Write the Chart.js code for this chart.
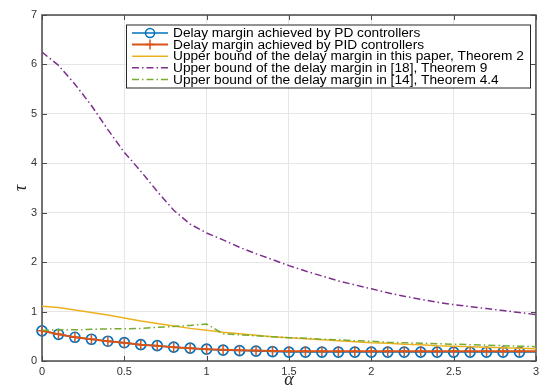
<!DOCTYPE html>
<html>
<head>
<meta charset="UTF-8">
<title>delay margin</title>
<script src="https://cdn.jsdelivr.net/npm/chart.js"></script>
<style>
body{margin:0;background:#fff;}
</style>
</head>
<body>
<canvas id="myChart" width="543" height="390"></canvas>
<script>
// alpha values (x axis)
var alpha = [0, 0.1, 0.2, 0.3, 0.4, 0.5, 0.6, 0.7, 0.8, 0.9, 1.0,
             1.1, 1.2, 1.3, 1.4, 1.5, 1.6, 1.7, 1.8, 1.9, 2.0,
             2.1, 2.2, 2.3, 2.4, 2.5, 2.6, 2.7, 2.8, 2.9, 3.0];

var pdMargin  = [0.61, 0.54, 0.48, 0.44, 0.40, 0.37, 0.33, 0.31, 0.28, 0.26, 0.24,
                 0.22, 0.21, 0.20, 0.19, 0.18, 0.18, 0.18, 0.18, 0.18, 0.18,
                 0.18, 0.18, 0.18, 0.18, 0.18, 0.18, 0.18, 0.18, 0.18, 0.18];
var pidMargin = [0.61, 0.54, 0.48, 0.44, 0.40, 0.37, 0.33, 0.31, 0.28, 0.26, 0.24,
                 0.23, 0.22, 0.21, 0.20, 0.195, 0.195, 0.195, 0.195, 0.195, 0.195,
                 0.195, 0.195, 0.195, 0.195, 0.195, 0.195, 0.195, 0.195, 0.195, 0.195];
var boundThis = [1.11, 1.08, 1.03, 0.98, 0.93, 0.87, 0.81, 0.76, 0.71, 0.66, 0.62,
                 0.58, 0.55, 0.52, 0.49, 0.47, 0.45, 0.43, 0.41, 0.39, 0.37,
                 0.36, 0.34, 0.33, 0.31, 0.30, 0.29, 0.28, 0.27, 0.26, 0.25];
var bound18   = [6.25, 5.98, 5.60, 5.17, 4.68, 4.22, 3.84, 3.43, 3.05, 2.77, 2.59,
                 2.45, 2.30, 2.17, 2.05, 1.93, 1.82, 1.72, 1.62, 1.54, 1.46,
                 1.38, 1.31, 1.25, 1.19, 1.14, 1.10, 1.06, 1.02, 0.98, 0.94];
var bound14   = [0.62, 0.63, 0.63, 0.64, 0.65, 0.65, 0.66, 0.68, 0.70, 0.72, 0.75,
                 0.55, 0.53, 0.51, 0.49, 0.47, 0.46, 0.44, 0.43, 0.41, 0.40,
                 0.38, 0.37, 0.36, 0.35, 0.34, 0.33, 0.32, 0.31, 0.30, 0.29];

var xTicks = [0, 0.5, 1, 1.5, 2, 2.5, 3];
var yTicks = [0, 1, 2, 3, 4, 5, 6, 7];

var seriesNames = [
	'Delay margin achieved by PD controllers',
	'Delay margin achieved by PID controllers',
	'Upper bound of the delay margin in this paper, Theorem 2',
	'Upper bound of the delay margin in [18], Theorem 9',
	'Upper bound of the delay margin in [14], Theorem 4.4'
];

function pts(ys){
	return alpha.map(function(a, i){ return {x: a, y: ys[i]}; });
}

var axisColor = '#4a4a4a';
var dashDot = [7, 3, 1.5, 3];

// no marker on the last sample (x = 3)
function markerSize(c){ return c.dataIndex === alpha.length - 1 ? 0 : 5; }

// box around the plot + inward ticks (matlab style)
var boxPlugin = {
	id: 'axesBox',
	beforeDatasetsDraw: function(chart){
		var ctx = chart.ctx, a = chart.chartArea;
		var xs = chart.scales.x, ys = chart.scales.y;
		ctx.save();
		ctx.strokeStyle = axisColor;
		ctx.lineWidth = 1.5;
		ctx.strokeRect(a.left, a.top, a.right - a.left, a.bottom - a.top);
		ctx.lineWidth = 1;
		ctx.beginPath();
		xTicks.forEach(function(v){
			var px = Math.round(xs.getPixelForValue(v)) + 0.5;
			ctx.moveTo(px, a.bottom); ctx.lineTo(px, a.bottom - 5);
			ctx.moveTo(px, a.top); ctx.lineTo(px, a.top + 5);
		});
		yTicks.forEach(function(v){
			var py = Math.round(ys.getPixelForValue(v)) + 0.5;
			ctx.moveTo(a.left, py); ctx.lineTo(a.left + 5, py);
			ctx.moveTo(a.right, py); ctx.lineTo(a.right - 5, py);
		});
		ctx.stroke();
		ctx.restore();
	}
};

// legend box inside the plot
var legendPlugin = {
	id: 'boxLegend',
	afterDraw: function(chart){
		var ctx = chart.ctx, a = chart.chartArea;
		var bx = a.left + 84, by = a.top + 9.5, bw = 404, bh = 63;
		ctx.save();
		ctx.fillStyle = '#fff';
		ctx.fillRect(bx, by, bw, bh);
		ctx.strokeStyle = '#262626';
		ctx.lineWidth = 1;
		ctx.strokeRect(bx + 0.5, by + 0.5, bw, bh);
		ctx.font = '13.7px "Liberation Sans", Arial, sans-serif';
		ctx.textBaseline = 'middle';
		chart.data.datasets.forEach(function(ds, i){
			var y = by + 8.5 + i * 11.6;
			var x0 = bx + 6, x1 = bx + 42, xm = (x0 + x1) / 2;
			ctx.strokeStyle = ds.borderColor;
			ctx.lineWidth = ds.borderWidth;
			ctx.setLineDash(ds.borderDash || []);
			ctx.beginPath(); ctx.moveTo(x0, y); ctx.lineTo(x1, y); ctx.stroke();
			ctx.setLineDash([]);
			ctx.lineWidth = 1.5;
			if (ds.pointStyle === 'circle') {
				ctx.beginPath(); ctx.arc(xm, y, 4.5, 0, Math.PI * 2); ctx.stroke();
			} else if (ds.pointStyle === 'cross') {
				ctx.beginPath();
				ctx.moveTo(xm - 5, y); ctx.lineTo(xm + 5, y);
				ctx.moveTo(xm, y - 5); ctx.lineTo(xm, y + 5);
				ctx.stroke();
			}
			ctx.fillStyle = '#000';
			ctx.fillText(ds.label, bx + 47, y + 0.5);
		});
		ctx.restore();
	}
};

var ctx = document.getElementById('myChart');
new Chart(ctx, {
	type: 'line',
	data: {
		datasets: [{
			label: seriesNames[0],
			data: pts(pdMargin),
			borderColor: '#0072BD',
			borderWidth: 1.5,
			pointStyle: 'circle',
			pointRadius: markerSize,
			pointBorderWidth: 1.7,
			pointBackgroundColor: 'rgba(0,0,0,0)',
			pointBorderColor: '#0072BD',
			clip: 10,
			order: 5
		}, {
			label: seriesNames[1],
			data: pts(pidMargin),
			borderColor: '#D95319',
			borderWidth: 2,
			pointStyle: 'cross',
			pointRadius: markerSize,
			pointBorderWidth: 1.5,
			pointBorderColor: '#D95319',
			clip: 10,
			order: 4
		}, {
			label: seriesNames[2],
			data: pts(boundThis),
			borderColor: '#EDB120',
			borderWidth: 1.5,
			pointRadius: 0,
			order: 3
		}, {
			label: seriesNames[3],
			data: pts(bound18),
			borderColor: '#7E2F8E',
			borderWidth: 1.5,
			borderDash: dashDot,
			pointRadius: 0,
			order: 2
		}, {
			label: seriesNames[4],
			data: pts(bound14),
			borderColor: '#77AC30',
			borderWidth: 1.5,
			borderDash: dashDot,
			pointRadius: 0,
			order: 1
		}]
	},
	options: {
		responsive: false,
		animation: false,
		events: [],
		layout: { padding: { top: 15, right: 3, left: 0, bottom: 0 } },
		plugins: { legend: { display: false }, tooltip: { enabled: false } },
		scales: {
			x: {
				type: 'linear',
				min: 0, max: 3,
				afterBuildTicks: function(s){ s.ticks = xTicks.map(function(v){ return {value: v}; }); },
				afterFit: function(s){ s.height = 29; },
				grid: { color: '#e6e6e6', drawTicks: false },
				border: { display: false },
				ticks: {
					padding: 4,
					color: '#333',
					font: { family: '"Liberation Sans", Arial, sans-serif', size: 11 },
					callback: function(v){ return String(v); },
					maxRotation: 0
				},
				title: {
					display: true,
					text: 'α',
					color: '#262626',
					font: { family: '"Liberation Serif", serif', size: 18, style: 'italic' },
					padding: { top: 0, bottom: -1 }
				}
			},
			y: {
				type: 'linear',
				min: 0, max: 7,
				afterBuildTicks: function(s){ s.ticks = yTicks.map(function(v){ return {value: v}; }); },
				afterFit: function(s){ s.width = 42; },
				grid: { color: '#e6e6e6', drawTicks: false },
				border: { display: false },
				ticks: {
					padding: 5,
					color: '#333',
					font: { family: '"Liberation Sans", Arial, sans-serif', size: 11 },
					callback: function(v){ return String(v); }
				},
				title: {
					display: true,
					text: 'τ',
					color: '#262626',
					font: { family: '"Liberation Serif", serif', size: 18, style: 'italic' },
					padding: { top: 10, bottom: 0 }
				}
			}
		}
	},
	plugins: [boxPlugin, legendPlugin]
});
</script>
</body>
</html>
